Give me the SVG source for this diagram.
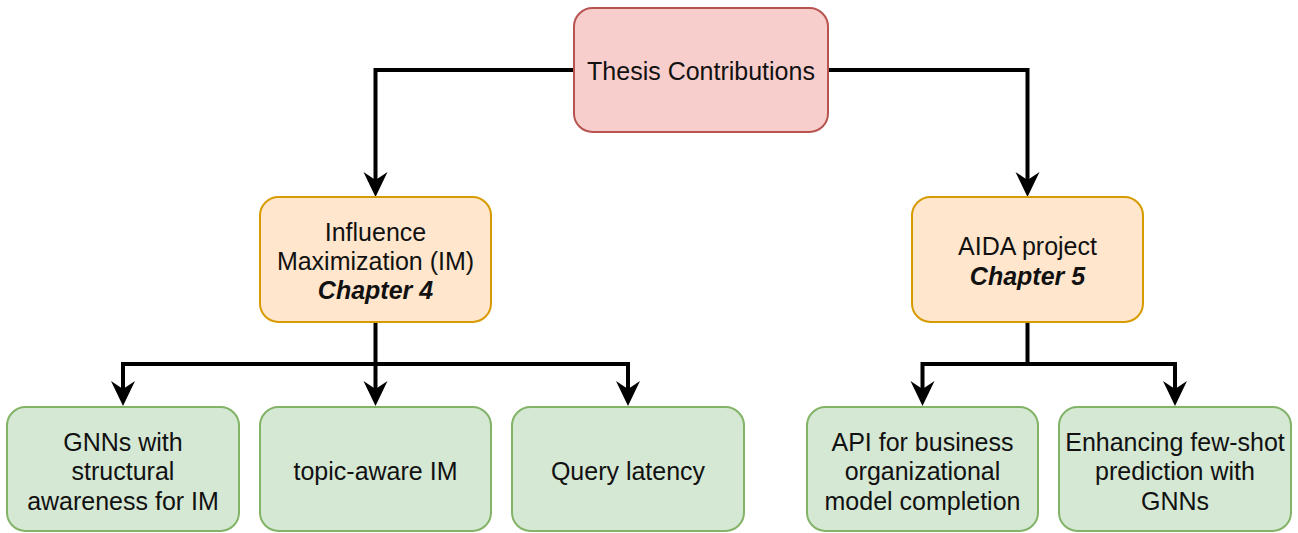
<svg xmlns="http://www.w3.org/2000/svg" width="1298" height="533" viewBox="0 0 1298 533">
  <style>
    .box { stroke-width: 2; }
    .root { fill: #f8cecc; stroke: #b85450; }
    .topic { fill: #ffe6cc; stroke: #d79b00; }
    .leaf { fill: #d5e8d4; stroke: #82b366; }
    text { font-family: "Liberation Sans", Arial, Helvetica, sans-serif; font-size: 25px; fill: #111; text-anchor: middle; }
    .em { font-weight: bold; font-style: italic; }
    .edge { fill: none; stroke: #000; stroke-width: 4; stroke-linejoin: miter; }
  </style>
  <defs>
    <marker id="arrow" markerUnits="userSpaceOnUse" markerWidth="26" markerHeight="26" viewBox="0 0 26 26" refX="8" refY="13" orient="auto">
      <path d="M25 13 L0 1 L8 13 L0 25 Z" fill="#000"/>
    </marker>
  </defs>
  <rect width="1298" height="533" fill="#fff"/>

  <g id="connectors">
    <path class="edge" d="M574 70 H375.5 V180" marker-end="url(#arrow)"/>
    <path class="edge" d="M828 70 H1027.5 V180" marker-end="url(#arrow)"/>
    <path class="edge" d="M375.5 322 V364 H123 V389" marker-end="url(#arrow)"/>
    <path class="edge" d="M375.5 364 V389" marker-end="url(#arrow)"/>
    <path class="edge" d="M375.5 364 H628 V389" marker-end="url(#arrow)"/>
    <path class="edge" d="M1027.5 322 V364 H922.5 V389" marker-end="url(#arrow)"/>
    <path class="edge" d="M1027.5 364 H1175 V389" marker-end="url(#arrow)"/>
  </g>

  <g id="thesis-contributions">
    <rect class="box root" x="574" y="8" width="254" height="124" rx="18.5"/>
    <text x="701" y="80">Thesis Contributions</text>
  </g>

  <g id="influence-maximization">
    <rect class="box topic" x="260" y="197" width="231" height="125" rx="18.5"/>
    <text x="375.5" y="240.5">Influence</text>
    <text x="375.5" y="269.5">Maximization (IM)</text>
    <text x="375.5" y="299" class="em">Chapter 4</text>
  </g>

  <g id="aida-project">
    <rect class="box topic" x="912" y="197" width="231" height="125" rx="18.5"/>
    <text x="1027.5" y="255">AIDA project</text>
    <text x="1027.5" y="284.5" class="em">Chapter 5</text>
  </g>

  <g id="gnn-structural">
    <rect class="box leaf" x="7" y="407" width="232" height="124" rx="18.5"/>
    <text x="123" y="450.5">GNNs with</text>
    <text x="123" y="480">structural</text>
    <text x="123" y="509.5">awareness for IM</text>
  </g>

  <g id="topic-aware">
    <rect class="box leaf" x="260" y="407" width="231" height="124" rx="18.5"/>
    <text x="375.5" y="480">topic-aware IM</text>
  </g>

  <g id="query-latency">
    <rect class="box leaf" x="512" y="407" width="232" height="124" rx="18.5"/>
    <text x="628" y="480">Query latency</text>
  </g>

  <g id="api-business">
    <rect class="box leaf" x="807" y="407" width="231" height="124" rx="18.5"/>
    <text x="922.5" y="450.5">API for business</text>
    <text x="922.5" y="480">organizational</text>
    <text x="922.5" y="509.5">model completion</text>
  </g>

  <g id="few-shot">
    <rect class="box leaf" x="1059" y="407" width="232" height="124" rx="18.5"/>
    <text x="1175" y="450.5">Enhancing few-shot</text>
    <text x="1175" y="480">prediction with</text>
    <text x="1175" y="509.5">GNNs</text>
  </g>
</svg>
